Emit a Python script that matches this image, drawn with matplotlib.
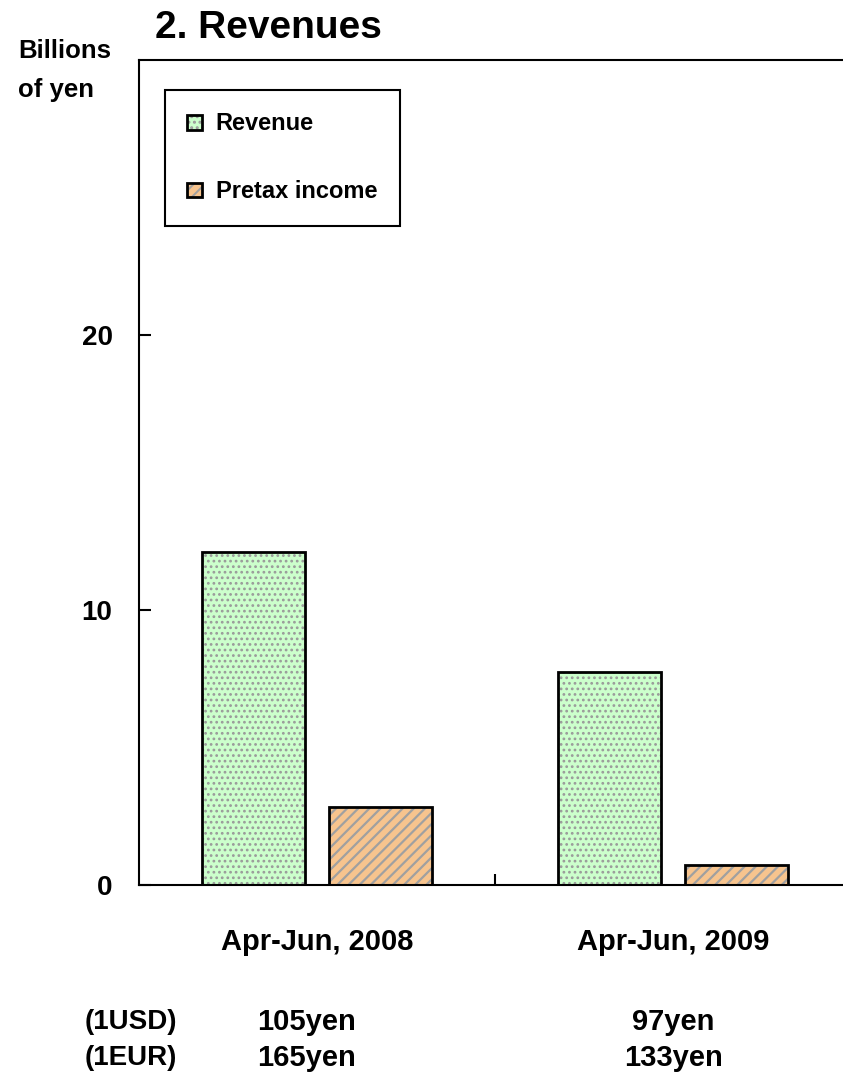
import matplotlib
matplotlib.use('Agg')
import matplotlib.pyplot as plt
from matplotlib.transforms import blended_transform_factory
import numpy as np

# ---- data ----
categories = ['Apr-Jun, 2008', 'Apr-Jun, 2009']
revenue = [12.1, 7.75]
pretax = [2.85, 0.72]
series_labels = ['Revenue', 'Pretax income']
usd_rates = ['105yen', '97yen']
eur_rates = ['165yen', '133yen']
rate_labels = ['(1USD)', '(1EUR)']
yticks = [0, 10, 20]

plt.rcParams['font.family'] = ['Liberation Sans', 'DejaVu Sans']
plt.rcParams['font.weight'] = 'bold'
plt.rcParams['hatch.linewidth'] = 1.4

W, H = 843, 1080
fig = plt.figure(figsize=(W / 100, H / 100), dpi=100)
ax = fig.add_axes([139 / W, 1 - 885 / H, 712 / W, 825 / H])

x = np.arange(len(categories))
w = 0.29
off = 0.178

rev_fill = ax.bar(x - off, revenue, w, color='#ccffcc', edgecolor='#9a9a9a',
                  hatch='...', linewidth=0, zorder=2)
rev_edge = ax.bar(x - off, revenue, w, fill=False, edgecolor='black',
                  linewidth=2, zorder=3)
pre_fill = ax.bar(x + off, pretax, w, color='#f7c48e', edgecolor='#a0a0a0',
                  hatch='///', linewidth=0, zorder=2)
pre_edge = ax.bar(x + off, pretax, w, fill=False, edgecolor='black',
                  linewidth=2, zorder=3)
for p in rev_fill:
    if hasattr(p, 'set_hatch_linewidth'):
        p.set_hatch_linewidth(1.2)
for p in pre_fill:
    if hasattr(p, 'set_hatch_linewidth'):
        p.set_hatch_linewidth(1.6)

ax.set_xlim(-0.5, 1.5)
ax.set_ylim(0, 30)
ax.set_yticks(yticks)
ax.tick_params(axis='y', direction='in', length=8.5, width=1.5, pad=19,
               labelsize=20)
ax.set_xticks(x, categories)
ax.tick_params(axis='x', which='major', length=0, pad=31, labelsize=21)
ax.set_xticks([0.5], minor=True)
ax.tick_params(axis='x', which='minor', direction='in', length=8, width=1.5)

for s in ['left', 'top', 'bottom']:
    ax.spines[s].set_linewidth(1.5)
ax.spines['right'].set_visible(False)

leg = ax.legend([(rev_fill[0], rev_edge[0]), (pre_fill[0], pre_edge[0])],
                series_labels, loc='upper left',
                bbox_to_anchor=(0.0365, 0.9636), borderaxespad=0,
                fontsize=17, handlelength=0.6, handleheight=0.6,
                handletextpad=0.6, labelspacing=1.9, borderpad=0.95,
                fancybox=False, framealpha=1, edgecolor='black')
leg.get_frame().set_linewidth(1.5)

fig.text(155 / W, 1 - 28 / H, '2. Revenues', fontsize=28, va='center',
         ha='left')
fig.text(18 / W, 1 - 58 / H, 'Billions', fontsize=18.5, va='baseline')
fig.text(18 / W, 1 - 97 / H, 'of yen', fontsize=18.5, va='baseline')

trans = blended_transform_factory(ax.transData, fig.transFigure)
row_y = [1 - 1022 / H, 1 - 1058 / H]
for ry, lab in zip(row_y, rate_labels):
    fig.text(85 / W, ry, lab, fontsize=20, va='center', ha='left')
rate_offsets = [-0.03, 0.0]
for xi, dx, u, e in zip(x, rate_offsets, usd_rates, eur_rates):
    ax.text(xi + dx, row_y[0], u, transform=trans, fontsize=21,
            va='center', ha='center')
    ax.text(xi + dx, row_y[1], e, transform=trans, fontsize=21,
            va='center', ha='center')

fig.savefig('out.png', dpi=100)
